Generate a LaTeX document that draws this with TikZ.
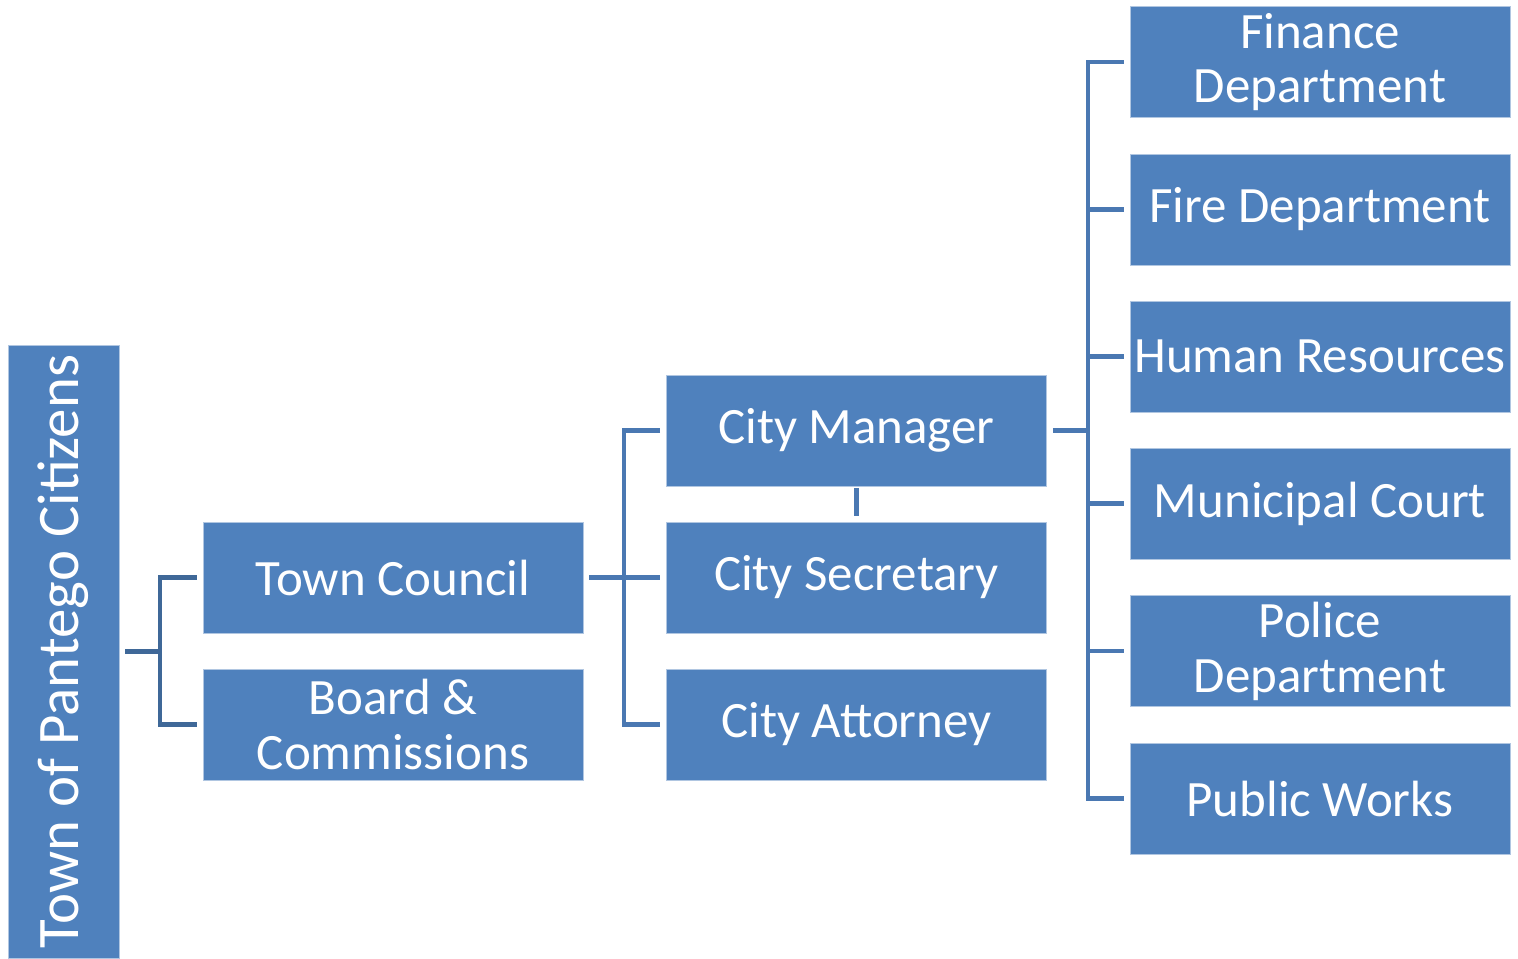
\documentclass[tikz,border=0pt]{standalone}
\usepackage{fontspec}
\setmainfont{Carlito}
\usepackage{tikz}
\usepackage{xcolor}
\definecolor{boxblue}{HTML}{4F81BD}
\definecolor{lineblue}{HTML}{4A78B2}
\definecolor{rootline}{HTML}{3F6898}

\begin{document}
\begin{tikzpicture}[x=0.02cm,y=-0.02cm]
  \tikzstyle{unit}=[rectangle,fill=boxblue,draw=boxblue!45!white,line width=0.5pt,
    text=white,align=center,minimum width=7.6cm,minimum height=2.22cm,inner sep=2pt,
    font=\fontsize{29}{31.2}\selectfont]
  \tikzstyle{link}=[lineblue,line width=2.8pt]
  \useasboundingbox (0,0) rectangle (1518,958);
  % people
  \node(citizens)[unit,rotate=90,minimum width=12.26cm,minimum height=2.22cm,
    font=\fontsize{33.5}{36}\selectfont] at (63.5,651.5){Town of Pantego Citizens};
  % council level
  \node(council)[unit] at (393,577.5){Town Council};
  \node(boards)[unit] at (393,724.5){Board \&\\Commissions};
  % staff level
  \node(manager)[unit] at (856.5,430.5){City Manager};
  \node(secretary)[unit] at (856.5,577.5){City Secretary};
  \node(attorney)[unit] at (856.5,724.5){City Attorney};
  % departments
  \node(finance)[unit] at (1320,62){Finance\\Department};
  \node(fire)[unit] at (1320,209.5){Fire Department};
  \node(hr)[unit] at (1320,356.5){Human Resources};
  \node(court)[unit] at (1320,503.5){Municipal Court};
  \node(police)[unit] at (1320,651){Police\\Department};
  \node(works)[unit] at (1320,798.5){Public Works};
  % branching points
  \coordinate(j1) at (160,651.5);
  \coordinate(j2) at (624,577.5);
  \coordinate(j3) at (1088,430.5);
  % citizens -> council, boards
  \draw[link,rootline] ([xshift=3.4pt]citizens.south) -- (j1);
  \draw[link,rootline] ([xshift=-3.4pt]council.west) -- (j1 |- council.west)
    -- (j1 |- boards.west) -- ([xshift=-3.4pt]boards.west);
  % council -> staff
  \draw[link] ([xshift=3.4pt]council.east) -- (j2);
  \draw[link] ([xshift=-3.4pt]manager.west) -- (j2 |- manager.west)
    -- (j2 |- attorney.west) -- ([xshift=-3.4pt]attorney.west);
  \draw[link] (j2) -- ([xshift=-3.4pt]secretary.west);
  % manager -> departments
  \draw[link] ([xshift=3.4pt]manager.east) -- (j3);
  \draw[link] ([xshift=-3.4pt]finance.west) -- (j3 |- finance.west)
    -- (j3 |- works.west) -- ([xshift=-3.4pt]works.west);
  \foreach \d in {fire,hr,court,police}
    \draw[link] (j3 |- \d.west) -- ([xshift=-3.4pt]\d.west);
  % manager and secretary
  \draw[link] ([yshift=-1pt]manager.south) -- ([yshift=3pt]secretary.north);
\end{tikzpicture}
\end{document}
